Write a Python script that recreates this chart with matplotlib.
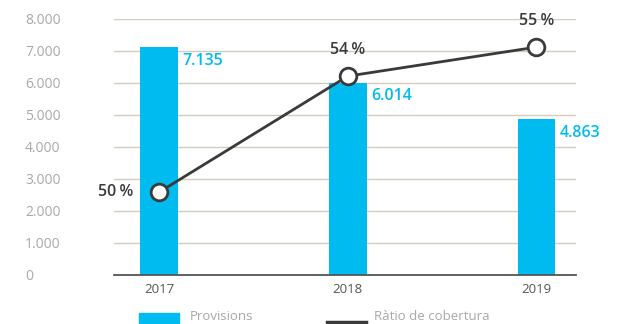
import matplotlib.pyplot as plt
from matplotlib.patches import Rectangle
from matplotlib.lines import Line2D

plt.rcParams['font.family'] = ['Open Sans', 'DejaVu Sans']

years = ['2017', '2018', '2019']
provisions = [7135, 6014, 4863]
coverage = [50, 54, 55]
provision_labels = ['7.135', '6.014', '4.863']
coverage_labels = ['50\u2009%', '54\u2009%', '55\u2009%']
y_ticks = [0, 1000, 2000, 3000, 4000, 5000, 6000, 7000, 8000]
y_tick_labels = ['0', '1.000', '2.000', '3.000', '4.000', '5.000', '6.000', '7.000', '8.000']

cyan = '#00bbf0'
dark = '#3a3a3a'
grey = '#a8a8a8'
W, H = 623, 324

fig = plt.figure(figsize=(W / 100, H / 100), dpi=100)
ax = fig.add_axes([114 / W, (H - 275) / H, (576 - 114) / W, (275 - 19) / H])

x = list(range(len(years)))
ax.bar(x, provisions, width=0.2, color=cyan, zorder=2)
ax.set_xlim(-0.24, 2.21)
ax.set_ylim(0, 8000)
ax.set_yticks(y_ticks)
ax.set_yticklabels(y_tick_labels)
ax.set_xticks(x)
ax.set_xticklabels(years)
ax.grid(axis='y', color='#d2ccbf', linewidth=1, zorder=0)
ax.set_axisbelow(True)
for s in ['top', 'right', 'left']:
    ax.spines[s].set_visible(False)
ax.spines['bottom'].set_color('#555555')
ax.spines['bottom'].set_linewidth(1.3)
ax.spines['bottom'].set_zorder(3)
# y labels are left-aligned in a column near the figure edge
ax.tick_params(axis='y', length=0, pad=64, labelcolor=grey, labelsize=10)
for lbl in ax.get_yticklabels():
    lbl.set_horizontalalignment('left')
ax.tick_params(axis='x', length=0, pad=6, labelcolor='#555555', labelsize=9.5)

for xi, v, t in zip(x, provisions, provision_labels):
    ax.annotate(t, (xi + 0.1, v), xytext=(3, -10), textcoords='offset points',
                ha='left', va='center', color=cyan, fontsize=11.5, fontweight='semibold')

ax2 = ax.twinx()
ax2.set_ylim(47.14, 55.97)
ax2.axis('off')
ax2.plot(x, coverage, color=dark, linewidth=2, marker='o', markersize=12,
         markerfacecolor='white', markeredgecolor=dark, markeredgewidth=2, zorder=4)

offsets = [(-19, 0, 'right', 'center'), (0, 13, 'center', 'bottom'), (0, 13, 'center', 'bottom')]
for xi, v, t, (dx, dy, ha, va) in zip(x, coverage, coverage_labels, offsets):
    ax2.annotate(t, (xi, v), xytext=(dx, dy), textcoords='offset points',
                 ha=ha, va=va, color=dark, fontsize=11.5, fontweight='semibold')

# legend drawn by hand along the bottom edge
fig.patches.append(Rectangle((139 / W, 0), 40 / W, 11 / H, transform=fig.transFigure,
                             color=cyan, figure=fig))
fig.text(190 / W, 7 / H, 'Provisions', color=grey, fontsize=9.5, va='center')
fig.lines.append(Line2D([327 / W, 366 / W], [2 / H, 2 / H], transform=fig.transFigure,
                        color=dark, linewidth=2.5, figure=fig))
fig.text(374 / W, 7 / H, 'Ràtio de cobertura', color=grey, fontsize=9.5, va='center')

fig.savefig('out.png', dpi=100)
